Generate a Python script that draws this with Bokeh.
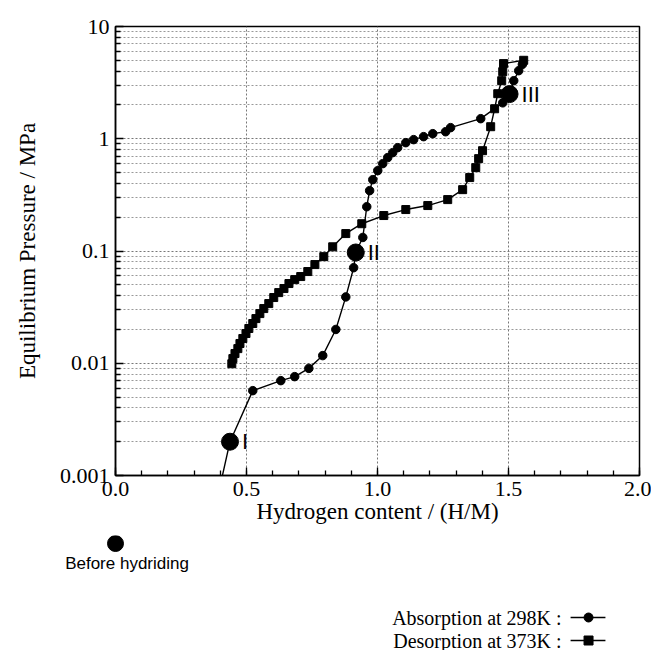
import numpy as np
from bokeh.plotting import figure
from bokeh.models import Range1d, FixedTicker, CustomJSTickFormatter, ColumnDataSource
from bokeh.layouts import column
from bokeh.embed import file_html
from bokeh.resources import INLINE
from bokeh.core.properties import value

# ---- data ----
# Absorption at 298K (H/M, MPa)
abs_h = [0.37, 0.437, 0.524, 0.631, 0.684, 0.738, 0.791, 0.841, 0.879, 0.909, 0.917,
         0.944, 0.959, 0.970, 0.982, 1.001, 1.020, 1.039, 1.058, 1.077, 1.108, 1.138,
         1.176, 1.211, 1.260, 1.279, 1.394, 1.478, 1.504, 1.520, 1.539, 1.553]
abs_p = [0.0004, 0.002, 0.0057, 0.0070, 0.0076, 0.0090, 0.0117, 0.020, 0.039, 0.071, 0.097,
         0.132, 0.248, 0.345, 0.432, 0.520, 0.600, 0.679, 0.752, 0.833, 0.923, 0.982,
         1.044, 1.11, 1.155, 1.256, 1.51, 2.09, 2.5, 3.29, 4.04, 4.6]

# Desorption at 373K (H/M, MPa)
des_h = [1.558, 1.481, 1.478, 1.474, 1.459, 1.447, 1.432, 1.401, 1.386, 1.375, 1.352,
         1.325, 1.268, 1.192, 1.108, 1.024, 0.940, 0.879, 0.829, 0.795, 0.761, 0.734,
         0.707, 0.684, 0.662, 0.643, 0.623, 0.604, 0.585, 0.566, 0.551, 0.536, 0.524,
         0.509, 0.498, 0.486, 0.475, 0.467, 0.456, 0.448, 0.444]
des_p = [5.0, 4.67, 3.96, 3.29, 2.52, 1.85, 1.28, 0.783, 0.665, 0.553, 0.451,
         0.352, 0.287, 0.254, 0.234, 0.207, 0.175, 0.143, 0.109, 0.0891, 0.0757, 0.0656,
         0.0592, 0.0556, 0.0513, 0.0463, 0.0426, 0.0385, 0.0340, 0.0307, 0.0277, 0.0250, 0.0226,
         0.0204, 0.0184, 0.0166, 0.0150, 0.0135, 0.0122, 0.0110, 0.0099]

# Marked states
state_labels = ["I", "II", "III"]
state_h = [0.437, 0.917, 1.504]
state_p = [0.002, 0.097, 2.5]

before_h = [0.0]

x_ticks = [0.0, 0.5, 1.0, 1.5, 2.0]
y_ticks = [0.001, 0.01, 0.1, 1, 10]

SERIF = "Liberation Serif"
SANS = "Liberation Sans"

W, H_TOP, H_BOT = 651, 535, 115
FL, FR = 115, 12                     # frame left / right borders (px)
PX_PER_UNIT = (W - FL - FR) / 2.0    # pixels per H/M unit

# ---- main chart ----
p = figure(width=W, height=H_TOP, output_backend="svg", toolbar_location=None,
           x_range=Range1d(0, 2), y_range=Range1d(0.001, 10), y_axis_type="log",
           min_border_left=FL, min_border_right=FR, min_border_top=26, min_border_bottom=60)
p.outline_line_color = "black"
p.outline_line_width = 1.5
p.background_fill_color = "white"
p.border_fill_color = "white"
p.frame_align = False

p.xaxis.ticker = FixedTicker(ticks=x_ticks, minor_ticks=[round(0.1 * i, 1) for i in range(21)])
p.xaxis.formatter = CustomJSTickFormatter(code="return tick.toFixed(1);")
p.yaxis.ticker = FixedTicker(ticks=y_ticks,
                             minor_ticks=[m * 10.0 ** e for e in range(-3, 1) for m in range(2, 10)])
p.yaxis.formatter = CustomJSTickFormatter(code="return tick.toString();")

for ax in (p.xaxis, p.yaxis):
    ax.axis_line_color = "black"
    ax.axis_line_width = 1.5
    ax.major_tick_in = 8
    ax.major_tick_out = 0
    ax.minor_tick_in = 5
    ax.minor_tick_out = 0
    ax.major_tick_line_color = "black"
    ax.minor_tick_line_color = "black"
    ax.major_tick_line_width = 1.3
    ax.minor_tick_line_width = 1.3
    ax.major_label_text_font = SERIF
    ax.major_label_text_font_size = "22px"
    ax.major_label_text_color = "black"
    ax.axis_label_text_font = SERIF
    ax.axis_label_text_font_size = "23px"
    ax.axis_label_text_font_style = "normal"
    ax.axis_label_text_color = "black"

p.xaxis.axis_label = "Hydrogen content / (H/M)"
p.yaxis.axis_label = "Equilibrium Pressure / MPa"
p.xaxis.major_label_standoff = 6
p.yaxis.major_label_standoff = 6
p.xaxis.axis_label_standoff = 0
p.yaxis.axis_label_standoff = 17

p.xgrid.grid_line_color = "#777777"
p.xgrid.grid_line_dash = "2 2"
p.xgrid.grid_line_width = 1
p.ygrid.grid_line_color = "#777777"
p.ygrid.grid_line_dash = "2 2"
p.ygrid.grid_line_width = 1
p.ygrid.minor_grid_line_color = "#999999"
p.ygrid.minor_grid_line_dash = "2 2"
p.ygrid.minor_grid_line_width = 1

src_abs = ColumnDataSource(dict(h=abs_h, p=abs_p))
src_des = ColumnDataSource(dict(h=des_h, p=des_p))
src_state = ColumnDataSource(dict(h=state_h, p=state_p, t=state_labels))

p.line("h", "p", source=src_abs, line_color="black", line_width=1.4)
p.line("h", "p", source=src_des, line_color="black", line_width=1.4)
p.scatter("h", "p", source=src_des, marker="square", size=8, fill_color="black", line_color="black")
p.scatter("h", "p", source=src_abs, marker="circle", size=8.5, fill_color="black", line_color="black")
p.scatter("h", "p", source=src_state, marker="circle", size=17, fill_color="black", line_color="black")
p.text("h", "p", text="t", source=src_state, x_offset=12, text_baseline="middle", text_align="left",
       text_font=value(SANS), text_font_size="22px", text_color="black")

# ---- bottom annotation strip (same H/M scale as the chart, full width) ----
q = figure(width=W, height=H_BOT, output_backend="svg", toolbar_location=None,
           x_range=Range1d(-FL / PX_PER_UNIT, 2 + FR / PX_PER_UNIT), y_range=Range1d(0, H_BOT),
           min_border_left=0, min_border_right=0, min_border_top=0, min_border_bottom=0,
           x_axis_location=None, y_axis_location=None)
q.frame_align = False
q.outline_line_color = None
q.xgrid.visible = False
q.ygrid.visible = False
q.background_fill_color = "white"
q.border_fill_color = "white"

q.scatter(before_h, [107], marker="circle", size=16, fill_color="black", line_color="black")
q.text([0.044], [87], text=["Before hydriding"], text_align="center", text_baseline="middle",
       text_font=value(SANS), text_font_size="17px", text_color="black")

leg_y = [33, 10]
q.text([1.7026, 1.7026], leg_y, text=["Absorption at 298K :", "Desorption at 373K :"],
       text_align="right", text_baseline="middle",
       text_font=value(SERIF), text_font_size="20px", text_color="black")
for yy, mk in zip(leg_y, ["circle", "square"]):
    q.line([1.737, 1.870], [yy, yy], line_color="black", line_width=1.4)
    q.scatter([1.8055], [yy], marker=mk, size=9, fill_color="black", line_color="black")

layout = column(p, q, spacing=0)
open("out.html", "w").write(file_html(layout, INLINE))
